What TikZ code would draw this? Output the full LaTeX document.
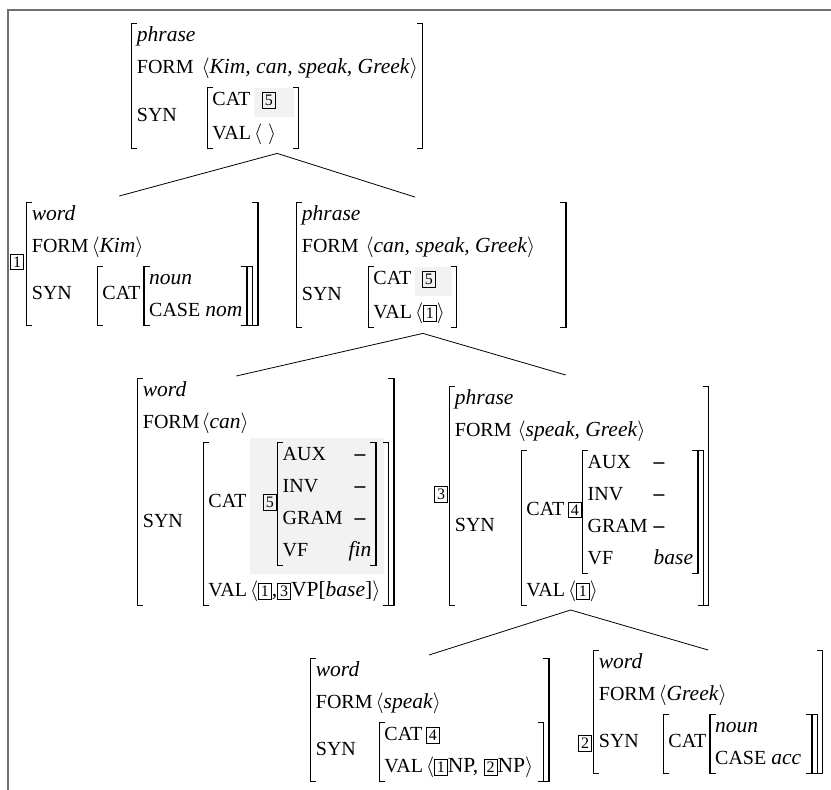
\documentclass[tikz,border=0pt]{standalone}
\usepackage{fontspec}
\setmainfont{Liberation Serif}
\usetikzlibrary{calc}
\definecolor{framec}{RGB}{112,112,112}
\definecolor{shadec}{RGB}{242,242,242}
\renewcommand\arraystretch{1.3333}
\newsavebox\avmbox
\newlength\brw \setlength\brw{1.4pt}
\newlength\brtl \setlength\brtl{5pt}
\newlength\brth \setlength\brth{0.9pt}
\newlength\trimt \setlength\trimt{4pt}
\newlength\trimb \setlength\trimb{0pt}
\newlength\avmH \newlength\avmD
\newlength\tmpA \newlength\tmpB
\newcommand\lbrk[2]{\setlength\tmpA{\dimexpr\brth-#1\relax}\setlength\tmpB{\dimexpr\brth-#2\relax}%
  \vrule width\brw height #1 depth #2%
  \rlap{\vrule width\brtl height #1 depth \tmpA}%
  \rlap{\vrule width\brtl height \tmpB depth #2}}
\newcommand\rbrk[2]{\setlength\tmpA{\dimexpr\brth-#1\relax}\setlength\tmpB{\dimexpr\brth-#2\relax}%
  \llap{\vrule width\brtl height #1 depth \tmpA}%
  \llap{\vrule width\brtl height \tmpB depth #2}%
  \vrule width\brw height #1 depth #2}
\newcommand\avm[2][@{}l@{\hspace{4pt}}l@{}]{%
  \sbox\avmbox{\begin{tabular}{#1}#2\end{tabular}}%
  \setlength\avmH{\dimexpr\ht\avmbox-\trimt\relax}%
  \setlength\avmD{\dimexpr\dp\avmbox-\trimb\relax}%
  \mbox{\lbrk{\avmH}{\avmD}\kern4.5pt\usebox\avmbox\kern4pt\rbrk{\avmH}{\avmD}}}
\newcommand\feat[1]{{\fontsize{20}{20}\selectfont #1}}
\newcommand\tagb[1]{{\setlength\fboxsep{2.2pt}\setlength\fboxrule{0.7pt}\fbox{\fontsize{16}{16}\selectfont #1}}}
\newcommand\tagc[1]{$\vcenter{\hbox{\tagb{#1}}}$}
\newcommand\negv{\textbf{–}}
\newcommand\gbox[5]{{\setlength\fboxsep{0pt}\colorbox{shadec}{\kern#1\raisebox{0pt}[#3][#4]{#5}\kern#2}}}
\newcommand\typ[1]{\multicolumn{2}{@{}l@{}}{\textit{#1}}}
\newcommand\la{$\langle$}
\newcommand\ra{$\rangle$}

\begin{document}
\begin{tikzpicture}[x=1pt,y=-1pt,
  avmnode/.style={inner sep=0pt, outer sep=0pt, anchor=north west, font=\fontsize{21.5}{24}\selectfont},
  tagnode/.style={inner sep=0pt, outer sep=0pt, anchor=east, font=\fontsize{21.5}{24}\selectfont},
  branch/.style={line width=0.8pt, black},
  framel/.style={line width=1.6pt, framec}]
\useasboundingbox (0,0) rectangle (831,790);
\draw[framel] (8,790) -- (8,10) -- (831,10);

% top
\node[avmnode] (A) at (131,19) {\avm[@{}l@{\hspace{8pt}}l@{}]{%
  \typ{phrase}\\
  \feat{FORM} & \la\textit{Kim, can, speak, Greek}\ra\\
  \feat{SYN} & \hspace{5pt}\avm[@{}l@{\hspace{3pt}}l@{}]{\feat{CAT} & \gbox{8pt}{18pt}{17pt}{12pt}{\tagb{5}}\\ \feat{VAL} & $\langle\hspace{6pt}\rangle$}}};

% Kim
\node[avmnode] (B) at (26,198) {\avm[@{}l@{\hspace{3pt}}l@{}]{%
  \typ{word}\\
  \feat{FORM} & \la\textit{Kim}\ra\\
  \feat{SYN} & \hspace{5pt}\avm[@{}l@{\hspace{3pt}}l@{}]{\feat{CAT} & \avm[@{}l@{\hspace{5pt}}l@{}]{\typ{noun}\\ \feat{CASE} & \textit{nom}}}}};
\node[tagnode] (t1) at ([xshift=-2pt]B.west) {\tagb{1}};

% can speak Greek
\node[avmnode] (C) at (296,198) {\avm[@{}l@{\hspace{7pt}}l@{}]{%
  \typ{phrase}\\
  \feat{FORM} & \la\textit{can, speak, Greek}\ra\kern26pt\\
  \feat{SYN} & \hspace{2pt}\avm[@{}l@{\hspace{3pt}}l@{}]{\feat{CAT} & \gbox{7pt}{16pt}{17pt}{12pt}{\tagb{5}}\\ \feat{VAL} & \la\tagb{1}\ra}}};

% can
\node[avmnode] (D) at (137,374) {\avm[@{}l@{\hspace{2pt}}l@{}]{%
  \typ{word}\\
  \feat{FORM} & \la\textit{can}\ra\\
  \feat{SYN} & \hspace{1pt}\avm[@{}l@{\hspace{3pt}}l@{}]{%
    \feat{CAT} & \gbox{13pt}{7pt}{\height}{\dimexpr\depth+8pt\relax}{\tagc{5}\avm[@{}l@{\hspace{6pt}}c@{}]{\feat{AUX} & \negv\\ \feat{INV} & \negv\\ \feat{GRAM} & \negv\\ \feat{VF} & \textit{fin}}}\\
    \feat{VAL} & \la\tagb{1},\tagb{3}VP[\textit{base}]\ra}}};

% speak Greek
\node[avmnode] (E) at (449,382) {\avm[@{}l@{\hspace{6pt}}l@{}]{%
  \typ{phrase}\\
  \feat{FORM} & \la\textit{speak, Greek}\ra\\
  \feat{SYN} & \hspace{3pt}\avm[@{}l@{\hspace{3pt}}l@{}]{%
    \feat{CAT} & \tagc{4}\avm[@{}l@{\hspace{6pt}}l@{}]{\feat{AUX} & \negv\\ \feat{INV} & \negv\\ \feat{GRAM} & \negv\\ \feat{VF} & \textit{base}}\\
    \feat{VAL} & \la\tagb{1}\ra}}};
\node[tagnode] (t3) at ([xshift=-1pt]E.west) {\tagb{3}};

% speak
\node[avmnode] (F) at (310,654) {\avm[@{}l@{\hspace{3pt}}l@{}]{%
  \typ{word}\\
  \feat{FORM} & \la\textit{speak}\ra\\
  \feat{SYN} & \hspace{3pt}\avm[@{}l@{\hspace{3pt}}l@{}]{\feat{CAT} & \tagb{4}\\ \feat{VAL} & \la\tagb{1}NP, \tagb{2}NP\ra\kern6pt}}};

% Greek
\node[avmnode] (G) at (593,646) {\avm[@{}l@{\hspace{3pt}}l@{}]{%
  \typ{word}\\
  \feat{FORM} & \la\textit{Greek}\ra\\
  \feat{SYN} & \hspace{4pt}\avm[@{}l@{\hspace{3pt}}l@{}]{\feat{CAT} & \avm[@{}l@{\hspace{5pt}}l@{}]{\typ{noun}\\ \feat{CASE} & \textit{acc}\kern6pt}}}};
\node[tagnode] (t2) at ([xshift=-1pt,yshift=-33pt]G.west) {\tagb{2}};

% branches
\draw[branch] ([yshift=-4pt]A.south) -- ([xshift=-23pt,yshift=2pt]B.north);
\draw[branch] ([yshift=-4pt]A.south) -- ([xshift=-16.5pt,yshift=1pt]C.north);
\draw[branch] ([xshift=-8.5pt,yshift=-5pt]C.south) -- ([xshift=-29.5pt,yshift=-2pt]D.north);
\draw[branch] ([xshift=-8.5pt,yshift=-5pt]C.south) -- ([xshift=-13.5pt,yshift=7pt]E.north);
\draw[branch] ([xshift=-8.5pt,yshift=-4pt]E.south) -- ([xshift=-1pt,yshift=-1pt]F.north);
\draw[branch] ([xshift=-8.5pt,yshift=-4pt]E.south) -- ([yshift=-4pt]G.north);
\end{tikzpicture}
\end{document}
